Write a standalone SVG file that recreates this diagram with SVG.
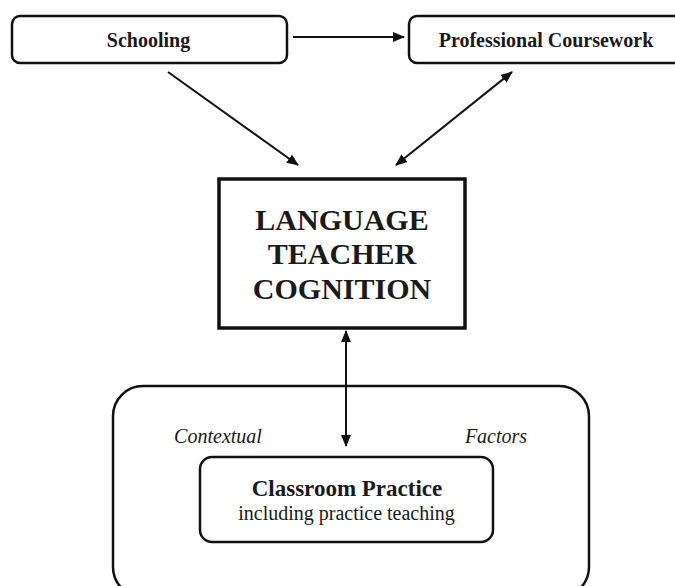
<svg xmlns="http://www.w3.org/2000/svg" width="675" height="586" viewBox="0 0 675 586">
  <style>
    .box { fill: #ffffff; stroke: #111111; stroke-width: 2.5; }
    .core { fill: #ffffff; stroke: #111111; stroke-width: 3.5; }
    .lbl { font-family: "Liberation Serif", "Times New Roman", serif; fill: #1a1a1a; text-anchor: middle; }
    .b20 { font-size: 20px; font-weight: bold; }
    .big { font-size: 30px; font-weight: bold; }
    .it { font-size: 20px; font-style: italic; }
    .reg { font-size: 20px; }
    .link { stroke: #111111; stroke-width: 2; fill: none; }
  </style>
  <defs>
    <marker id="head" viewBox="0 0 12 10" refX="11" refY="5" markerWidth="12" markerHeight="10" markerUnits="userSpaceOnUse" orient="auto-start-reverse">
      <path d="M0,0 L12,5 L0,10 Z" fill="#111111"/>
    </marker>
  </defs>
  <rect width="675" height="586" fill="#ffffff"/>

  <!-- context frame -->
  <g id="contextual-factors">
    <rect class="box" x="113" y="386" width="476" height="211" rx="30" ry="30"/>
    <text class="lbl it" x="218" y="443">Contextual</text>
    <text class="lbl it" x="496" y="443">Factors</text>
  </g>

  <g id="schooling">
    <rect class="box" x="12" y="16" width="275" height="47" rx="8" ry="8"/>
    <text class="lbl b20" x="148.5" y="47">Schooling</text>
  </g>

  <g id="professional-coursework">
    <rect class="box" x="409" y="16" width="280" height="47" rx="8" ry="8"/>
    <text class="lbl b20" x="546" y="47">Professional Coursework</text>
  </g>

  <g id="language-teacher-cognition">
    <rect class="core" x="219" y="179" width="246" height="149"/>
    <text class="lbl big" x="342" y="230">LANGUAGE</text>
    <text class="lbl big" x="342" y="264">TEACHER</text>
    <text class="lbl big" x="342" y="299">COGNITION</text>
  </g>

  <g id="classroom-practice">
    <rect class="box" x="200" y="457" width="293" height="85" rx="12" ry="12"/>
    <text class="lbl b20" x="347" y="496" style="font-size:23px">Classroom Practice</text>
    <text class="lbl reg" x="346.5" y="520">including practice teaching</text>
  </g>

  <g id="connectors">
    <line class="link" x1="293" y1="37" x2="404" y2="37" marker-end="url(#head)"/>
    <line class="link" x1="168" y1="72" x2="298" y2="165" marker-end="url(#head)"/>
    <line class="link" x1="512" y1="72" x2="396" y2="165" marker-start="url(#head)" marker-end="url(#head)"/>
    <line class="link" x1="346" y1="331" x2="346" y2="446" marker-start="url(#head)" marker-end="url(#head)"/>
  </g>
</svg>
